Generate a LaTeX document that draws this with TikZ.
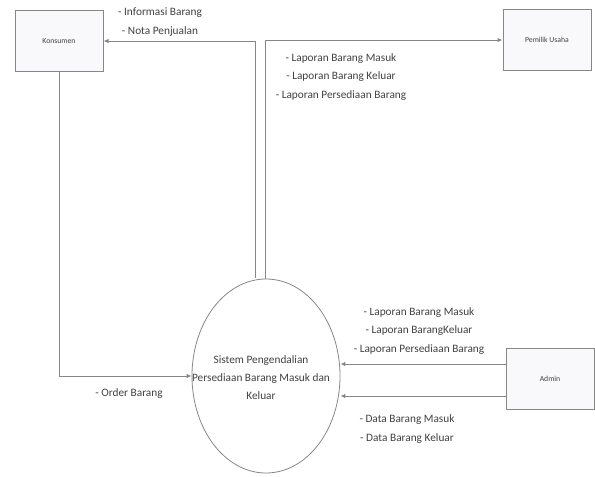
\documentclass[tikz,border=0pt]{standalone}
\usepackage{fontspec}
\setmainfont{Carlito}
\usetikzlibrary{shapes.geometric,arrows.meta}
\definecolor{linegray}{RGB}{135,135,135}
\definecolor{boxfill}{RGB}{249,249,252}
\definecolor{txtgray}{RGB}{65,65,65}
\tikzset{
  entity/.style={draw=linegray, line width=1pt, fill=boxfill, minimum width=88pt, minimum height=61pt, inner sep=0pt, font=\fontsize{7.7}{9}\selectfont, text=txtgray},
  process/.style={draw=linegray, line width=0.8pt, fill=white, ellipse, minimum width=148pt, minimum height=194pt, inner sep=0pt},
  flow/.style={draw=linegray, line width=1pt, -{Latex[length=5pt,width=4.5pt]}},
  lbl/.style={align=center, font=\fontsize{11.3}{18.5}\selectfont, text=txtgray, inner sep=0pt}
}
\begin{document}
\begin{tikzpicture}[x=1pt,y=-1pt]
\useasboundingbox (0,0) rectangle (595,477);
\fill[white] (0,0) rectangle (595,477);
\node[entity] (kons) at (59,41) {Konsumen};
\node[entity] (pem) at (547,40) {Pemilik Usaha};
\node[entity] (adm) at (550,379) {Admin};
\node[process] (sys) at (266,376) {};
\node[lbl, font=\fontsize{11.3}{18}\selectfont] (systext) at (261,378) {Sistem Pengendalian\\Persediaan Barang Masuk dan\\Keluar};

\coordinate (t1) at ([xshift=-11pt,yshift=1pt]sys.north);
\coordinate (t2) at ([xshift=-1pt,yshift=0pt]sys.north);
\draw[flow] (t1) |- (kons.east);
\draw[flow] (t2) |- (pem.west);
\draw[flow] (kons.south) |- (sys.west);
\coordinate (a1) at ([yshift=15pt]adm.west);
\coordinate (a2) at ([yshift=-17pt]adm.west);
\draw[flow] (a1) -- (a1 -| sys.east);
\draw[flow] (a2) -- (a2 -| sys.east);

\node[lbl] (l1) at (160,22) {- Informasi Barang\\- Nota Penjualan};
\node[lbl] (l2) at (341,77) {- Laporan Barang Masuk\\- Laporan Barang Keluar\\- Laporan Persediaan Barang};
\node[lbl] (l3) at (129,394) {- Order Barang};
\node[lbl] (l4) at (419,331) {- Laporan Barang Masuk\\- Laporan BarangKeluar\\- Laporan Persediaan Barang};
\node[lbl] (l5) at (407,429) {- Data Barang Masuk\\- Data Barang Keluar};
\end{tikzpicture}
\end{document}
